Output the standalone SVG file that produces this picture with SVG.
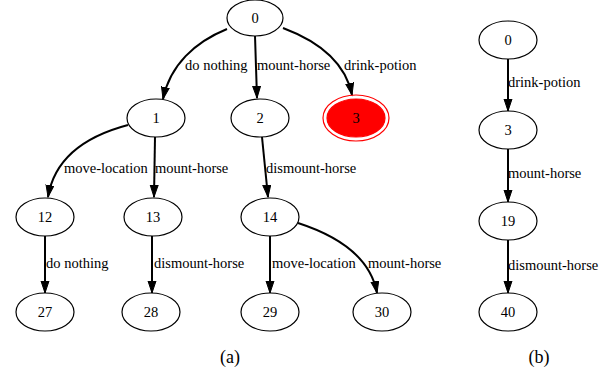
<svg xmlns="http://www.w3.org/2000/svg" width="611" height="374" viewBox="0 0 611 374">
<style>
.n ellipse{fill:#fff;stroke:#000;stroke-width:1.2}
text{font-family:'Liberation Serif','DejaVu Serif',serif;font-size:14.5px;fill:#000}
.n text{text-anchor:middle}
.e path{fill:none;stroke:#000;stroke-width:2;marker-end:url(#ah)}
.cap{font-size:18px;text-anchor:middle}
</style>
<defs>
<marker id="ah" markerUnits="userSpaceOnUse" markerWidth="14" markerHeight="10" refX="12" refY="4.5" orient="auto" viewBox="0 0 14 10">
<path d="M0,0.5 L12,4.5 L0,8.5 Z" fill="#000" stroke="#000" stroke-width="1"/>
</marker>
</defs>
<rect width="611" height="374" fill="#fff"/>
<g class="e" id="edges">
<path d="M227,29 C195,42 170,65 163,99"/>
<path d="M255,36 L257,98"/>
<path d="M283,28 C315,40 345,60 352,95"/>
<path d="M128,125 C90,135 55,155 48,197"/>
<path d="M155,137 L154,197"/>
<path d="M262,137 L268,197"/>
<path d="M45,236 L45,293"/>
<path d="M152,236 L152,293"/>
<path d="M270,236 L270,293"/>
<path d="M298,223 C335,235 370,255 377,293"/>
<path d="M508,59 L508,111"/>
<path d="M508,149 L508,202"/>
<path d="M508,240 L508,293"/>
</g>
<g id="edge-labels" font-family="Liberation Serif, DejaVu Serif, serif">
<text x="185" y="70">do nothing</text>
<text x="257" y="70">mount-horse</text>
<text x="344" y="70">drink-potion</text>
<text x="64" y="173">move-location</text>
<text x="155" y="173">mount-horse</text>
<text x="266" y="173">dismount-horse</text>
<text x="46" y="268">do nothing</text>
<text x="154" y="268">dismount-horse</text>
<text x="272" y="268">move-location</text>
<text x="368" y="268">mount-horse</text>
<text x="508" y="87">drink-potion</text>
<text x="508" y="178">mount-horse</text>
<text x="508" y="270">dismount-horse</text>
</g>
<g class="n" id="a0"><ellipse cx="255" cy="18" rx="28" ry="18"/><text x="255" y="23">0</text></g>
<g class="n" id="a1"><ellipse cx="156" cy="118" rx="29" ry="19"/><text x="156" y="123">1</text></g>
<g class="n" id="a2"><ellipse cx="260" cy="118" rx="29" ry="19"/><text x="260" y="123">2</text></g>
<g class="n" id="a3"><ellipse cx="356" cy="118" rx="33" ry="23" style="fill:none;stroke:#f00"/><ellipse cx="356" cy="118" rx="29" ry="19" style="fill:#f00;stroke:#f00"/><text x="356" y="123">3</text></g>
<g class="n" id="a12"><ellipse cx="45" cy="217" rx="29" ry="19"/><text x="45" y="222">12</text></g>
<g class="n" id="a13"><ellipse cx="153" cy="217" rx="29" ry="19"/><text x="153" y="222">13</text></g>
<g class="n" id="a14"><ellipse cx="270" cy="217" rx="29" ry="19"/><text x="270" y="222">14</text></g>
<g class="n" id="a27"><ellipse cx="45" cy="312" rx="29" ry="19"/><text x="45" y="317">27</text></g>
<g class="n" id="a28"><ellipse cx="151" cy="312" rx="29" ry="19"/><text x="151" y="317">28</text></g>
<g class="n" id="a29"><ellipse cx="270" cy="312" rx="29" ry="19"/><text x="270" y="317">29</text></g>
<g class="n" id="a30"><ellipse cx="382" cy="312" rx="29" ry="19"/><text x="382" y="317">30</text></g>
<g class="n" id="b0"><ellipse cx="508" cy="40" rx="29" ry="19"/><text x="508" y="45">0</text></g>
<g class="n" id="b3"><ellipse cx="508" cy="130" rx="29" ry="19"/><text x="508" y="135">3</text></g>
<g class="n" id="b19"><ellipse cx="508" cy="221" rx="29" ry="19"/><text x="508" y="226">19</text></g>
<g class="n" id="b40"><ellipse cx="508" cy="312" rx="29" ry="19"/><text x="508" y="317">40</text></g>
<text class="cap" x="230" y="363">(a)</text>
<text class="cap" x="539" y="363">(b)</text>
</svg>
